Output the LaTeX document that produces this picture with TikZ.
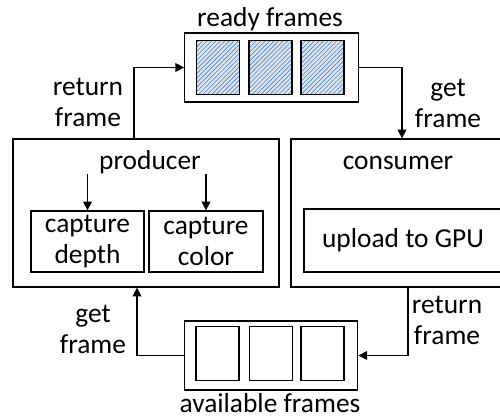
\documentclass[tikz,border=0pt]{standalone}
\usepackage{fontspec}
\setmainfont{Carlito}
\usepackage{tikz}
\usetikzlibrary{positioning, arrows.meta, patterns.meta}
\definecolor{hatchfill}{HTML}{DCE6F2}
\definecolor{hatchline}{HTML}{4A7EBB}

\begin{document}
\begin{tikzpicture}[
    x=0.02cm, y=-0.02cm,
    >={Triangle[length=5pt,width=5pt]},
    line width=0.75pt,
    every node/.style={font=\fontsize{15.6}{17.6}\selectfont, align=center, inner sep=0pt},
    queue/.style={draw, minimum width=3.47cm, minimum height=1.38cm},
    slot/.style={draw, minimum width=0.86cm, minimum height=1.09cm},
    hatched/.style={preaction={fill=hatchfill},
        pattern={Lines[angle=45, distance=1.8pt, line width=0.35pt]}, pattern color=hatchline},
    stage/.style={draw, minimum height=2.96cm},
    task/.style={draw, minimum height=1.22cm}
]
    \useasboundingbox (0,0) rectangle (500,418);

    % Define nodes
    \node[queue] (ready) at (271.5,67.5) {};
    \foreach \i/\x in {1/218, 2/270.5, 3/322.5}
        \node[slot, hatched] (ready\i) at (\x,67.5) {};
    \node (readylabel) at (270,19) {ready frames};

    \node[stage, minimum width=5.32cm] (producer) at (146,213) {};
    \node (producerlabel) at (150,162) {producer};
    \node[task, minimum width=2.26cm] (depth) at (87.5,241.5) {capture\\depth};
    \node[task, minimum width=2.28cm] (color) at (206,241.5) {capture\\color};

    \node[stage, minimum width=4.26cm] (consumer) at (397.5,213) {};
    \node (consumerlabel) at (398,163) {consumer};
    \node[task, minimum width=3.96cm, minimum height=1.26cm] (upload) at (403,240.5) {upload to GPU};

    \node[queue] (avail) at (271,355.5) {};
    \foreach \i/\x in {1/217.5, 2/271, 3/322.5}
        \node[slot] (avail\i) at (\x,353.5) {};
    \node (availlabel) at (270,403) {available frames};

    % Turning points
    \coordinate (retup) at (134,0);
    \coordinate (getdown) at (402,0);
    \coordinate (retdown) at (408,0);
    \coordinate (getup) at (137,0);

    % Draw arrows
    \draw[->] (producer.north -| retup) |- (ready.west);
    \draw[->] (ready.east) -| (consumer.north -| getdown);
    \draw[->] (consumer.south -| retdown) |- (avail.east);
    \draw[->] (avail.west) -| (producer.south -| getup);
    \draw[->] (depth.north |- producerlabel.south) -- (depth.north);
    \draw[->] (color.north |- producerlabel.south) -- (color.north);

    % Arrow labels
    \node (retlabel) at (88,102) {return\\frame};
    \node (getlabel) at (448,103) {get\\frame};
    \node (getlabel2) at (93,329) {get\\frame};
    \node (retlabel2) at (447,320) {return\\frame};
\end{tikzpicture}
\end{document}
